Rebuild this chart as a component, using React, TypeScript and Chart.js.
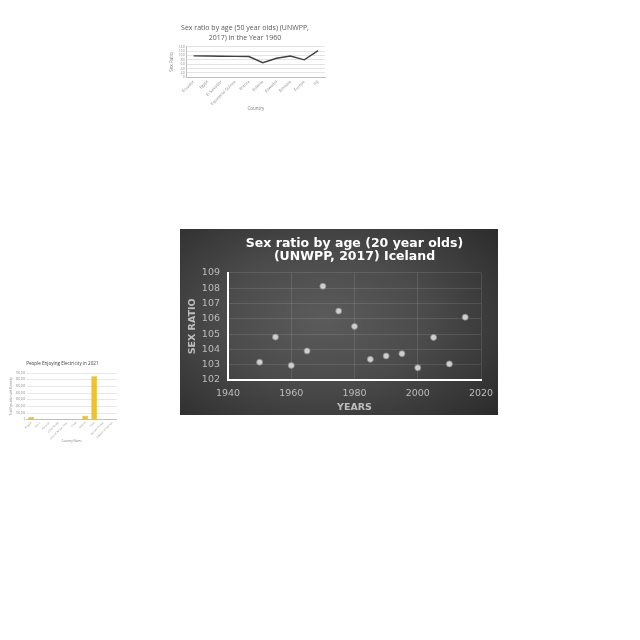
import React, { useEffect, useRef } from "react";
import { Chart, registerables } from "chart.js";

Chart.register(...registerables);

// ---- Main chart data (Iceland, 20 year olds) ----
const YEARS = [1950, 1955, 1960, 1965, 1970, 1975, 1980, 1985, 1990, 1995, 2000, 2005, 2010, 2015];
const SEX_RATIO_20 = [103.16, 104.8, 102.95, 103.9, 108.12, 106.5, 105.5, 103.35, 103.57, 103.72, 102.8, 104.78, 103.05, 106.1];
const MAIN_TITLE = ["Sex ratio by age (20 year olds)", "(UNWPP, 2017) Iceland"];

// ---- Thumbnail line chart (50 year olds, 1960) ----
const COUNTRIES_1960 = ["Ecuador", "Egypt", "El Salvador", "Equatorial Guinea", "Eritrea", "Estonia", "Eswatini", "Ethiopia", "Europe", "Fiji"];
const SEX_RATIO_50 = [98, 97.3, 96.5, 95.8, 95, 67, 87, 97.5, 80, 122];
const LINE_TITLE = ["Sex ratio by age (50 year olds) (UNWPP,", "2017) in the Year 1960"];

// ---- Thumbnail bar chart (electricity) ----
const ELEC_COUNTRIES = ["Angola", "Benin", "Burundi", "Cabo Verde", "Central African Rep.", "Chad", "Ghana", "India", "Guinea-Bissau", "Equatorial Guinea"];
const ELEC_PEOPLE = [40000, 15000, 10000, 2500, 1000, 5000, 60000, 650000, 2000, 2000];
const BAR_TITLE = "People Enjoying Electricity in 2021";

const MAIN_FONT = "'DejaVu Sans', Verdana, sans-serif";
const THUMB_FONT = "'Open Sans', 'Liberation Sans', sans-serif";

function ChartBox(props: { left: number; top: number; width: number; height: number; bg?: string; make: () => any }) {
  const ref = useRef<HTMLCanvasElement>(null);
  useEffect(() => {
    const chart = new Chart(ref.current as HTMLCanvasElement, props.make());
    return () => chart.destroy();
  }, []);
  return (
    <canvas
      ref={ref}
      width={props.width}
      height={props.height}
      style={{ position: "absolute", left: props.left, top: props.top, width: props.width, height: props.height, background: props.bg || "transparent" }}
    />
  );
}

function mainConfig() {
  const gridColor = "rgba(255,255,255,0.11)";
  return {
    type: "scatter",
    data: {
      datasets: [
        {
          data: YEARS.map((x, i) => ({ x, y: SEX_RATIO_20[i] })),
          pointRadius: 3,
          pointBackgroundColor: "#cfcfcf",
          pointBorderColor: "#8a8a8a",
          pointBorderWidth: 0.8,
          showLine: false,
        },
      ],
    },
    options: {
      responsive: false,
      animation: false,
      devicePixelRatio: 1,
      layout: { padding: { left: 0, right: 17, top: 0, bottom: 0 } },
      plugins: {
        legend: { display: false },
        tooltip: { enabled: false },
        title: {
          display: true,
          text: MAIN_TITLE,
          color: "#ffffff",
          fullSize: false,
          font: { family: MAIN_FONT, size: 12.5, weight: "bold", lineHeight: 1.03 },
          padding: { top: 8.5, bottom: 9.5 },
        },
      },
      scales: {
        x: {
          type: "linear",
          min: 1940,
          max: 2020,
          ticks: { stepSize: 20, color: "#bdbdbd", font: { family: MAIN_FONT, size: 9.5 }, padding: 8, callback: (v: number) => String(v) },
          grid: { color: (c: any) => (c.tick && c.tick.value === 1940 ? "rgba(0,0,0,0)" : gridColor), drawTicks: false },
          border: { color: "#ffffff", width: 2 },
          title: { display: true, text: "YEARS", color: "#bdbdbd", font: { family: MAIN_FONT, size: 9.5, weight: "bold" }, padding: { top: 0, bottom: 2 } },
          afterFit: (s: any) => { s.height = 35; s.paddingLeft = 0; s.paddingRight = 0; },
        },
        y: {
          type: "linear",
          min: 102,
          max: 109,
          ticks: { stepSize: 1, color: "#bdbdbd", font: { family: MAIN_FONT, size: 9.5 }, padding: 8 },
          grid: { color: (c: any) => (c.tick && c.tick.value === 102 ? "rgba(0,0,0,0)" : gridColor), drawTicks: false },
          border: { color: "#ffffff", width: 2 },
          title: { display: true, text: "SEX RATIO", color: "#bdbdbd", font: { family: MAIN_FONT, size: 9.5, weight: "bold" }, padding: { top: 7, bottom: 0 } },
          afterFit: (s: any) => { s.width = 48; },
        },
      },
    },
  };
}

function lineConfig() {
  return {
    type: "line",
    data: {
      labels: COUNTRIES_1960,
      datasets: [{ data: SEX_RATIO_50, borderColor: "#404040", borderWidth: 1.4, pointRadius: 0, tension: 0, fill: false }],
    },
    options: {
      responsive: false,
      animation: false,
      devicePixelRatio: 1,
      layout: { padding: { left: 0, right: 10, top: 0, bottom: 0 } },
      plugins: {
        legend: { display: false },
        tooltip: { enabled: false },
        title: {
          display: true,
          text: LINE_TITLE,
          color: "#595959",
          font: { family: THUMB_FONT, size: 7, weight: "normal", lineHeight: 1.43 },
          padding: { top: 5.3, bottom: 3.4 },
        },
      },
      scales: {
        x: {
          type: "category",
          offset: true,
          ticks: { color: "#8c8c8c", font: { family: THUMB_FONT, size: 4 }, minRotation: 45, maxRotation: 45, autoSkip: false, padding: 2 },
          grid: { display: false, drawTicks: false },
          border: { color: "#bfbfbf", width: 1 },
          title: { display: true, text: "Country", color: "#7f7f7f", font: { family: THUMB_FONT, size: 4.5 }, padding: { top: 0, bottom: 4 } },
          afterFit: (s: any) => { s.height = 37.7; },
        },
        y: {
          type: "linear",
          min: 0,
          max: 140,
          ticks: { stepSize: 20, color: "#8c8c8c", font: { family: THUMB_FONT, size: 3.6 }, padding: 2, autoSkip: false },
          grid: { color: "#e4e4e4", drawTicks: false },
          border: { color: "#bfbfbf", width: 1 },
          title: { display: true, text: "Sex Ratio", color: "#7f7f7f", font: { family: THUMB_FONT, size: 4.5 }, padding: { top: 4, bottom: 1 } },
          afterFit: (s: any) => { s.width = 21.7; },
        },
      },
    },
  };
}

function barConfig() {
  return {
    type: "bar",
    data: {
      labels: ELEC_COUNTRIES,
      datasets: [{ data: ELEC_PEOPLE, backgroundColor: "#f2c12e", borderColor: "#d9a800", borderWidth: 0.5, categoryPercentage: 0.65, barPercentage: 1 }],
    },
    options: {
      responsive: false,
      animation: false,
      devicePixelRatio: 1,
      layout: { padding: { left: 0, right: 9.3, top: 0, bottom: 0 } },
      plugins: {
        legend: { display: false },
        tooltip: { enabled: false },
        title: {
          display: true,
          text: BAR_TITLE,
          color: "#404040",
          font: { family: THUMB_FONT, size: 4.6, weight: "normal", lineHeight: 1.2 },
          padding: { top: 5, bottom: 6.5 },
        },
      },
      scales: {
        x: {
          type: "category",
          ticks: { color: "#8c8c8c", font: { family: THUMB_FONT, size: 2.6 }, minRotation: 45, maxRotation: 45, autoSkip: false, padding: 1.5 },
          grid: { display: false, drawTicks: false },
          border: { color: "#bfbfbf", width: 1 },
          title: { display: true, text: "Country Name", color: "#7f7f7f", font: { family: THUMB_FONT, size: 3 }, padding: { top: 0, bottom: 7 } },
          afterFit: (s: any) => { s.height = 30.3; },
        },
        y: {
          type: "linear",
          min: 0,
          max: 700000,
          ticks: { stepSize: 100000, color: "#8c8c8c", font: { family: THUMB_FONT, size: 2.6 }, padding: 1.5, autoSkip: false, callback: (v: number) => v.toLocaleString("en-US") },
          grid: { color: "#e8e8e8", drawTicks: false },
          border: { display: false },
          title: { display: true, text: "Total Population with Electricity", color: "#7f7f7f", font: { family: THUMB_FONT, size: 2.6 }, padding: { top: 2, bottom: 0.5 } },
          afterFit: (s: any) => { s.width = 18.7; },
        },
      },
    },
  };
}

export default function App() {
  return (
    <div style={{ position: "absolute", left: 0, top: 0, width: 640, height: 640, background: "#ffffff" }}>
      <ChartBox left={165} top={18} width={170} height={97} make={lineConfig} />
      <ChartBox left={8} top={356} width={118} height={94} make={barConfig} />
      <ChartBox
        left={180}
        top={229}
        width={318}
        height={186}
        bg="radial-gradient(ellipse 72% 78% at 45% 48%, #5b5b5b 0%, #4b4b4b 45%, #2b2b2b 100%)"
        make={mainConfig}
      />
    </div>
  );
}
